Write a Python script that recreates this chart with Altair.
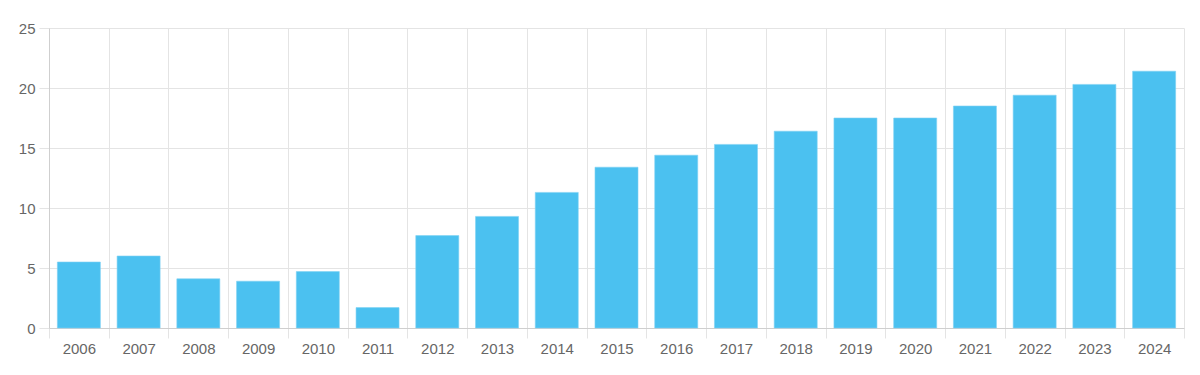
import altair as alt
import pandas as pd

years = [str(y) for y in range(2006, 2025)]
values = [5.5, 6.0, 4.1, 3.9, 4.7, 1.7, 7.7, 9.3, 11.3, 13.4, 14.4, 15.3, 16.4, 17.5, 17.5, 18.5, 19.4, 20.3, 21.4]

df = pd.DataFrame({"year": years, "value": values})

GRID = "#e4e4e4"
DOMAIN = "#cfcfcf"
FONT = "Liberation Sans"

chart = alt.Chart(df).mark_bar(
    color="#4BC1F0", width=alt.RelativeBandSize(0.72), stroke="#7fd2f4", strokeWidth=0.6
).encode(
    x=alt.X("year:N", sort=years, title=None,
            scale=alt.Scale(paddingInner=0, paddingOuter=0),
            axis=alt.Axis(labelAngle=0, grid=True, gridColor=GRID, tickBand="extent",
                          tickColor=GRID, tickSize=10, domainColor=DOMAIN,
                          labelFont=FONT, labelFontSize=15, labelColor="#666666",
                          labelPadding=3)),
    y=alt.Y("value:Q", title=None,
            scale=alt.Scale(domain=[0, 25], nice=False),
            axis=alt.Axis(values=[0, 5, 10, 15, 20, 25], grid=True, gridColor=GRID,
                          tickColor=GRID, tickSize=10, domainColor=DOMAIN,
                          labelFont=FONT, labelFontSize=15, labelColor="#666666",
                          labelPadding=4)),
).properties(
    width=1135, height=300,
    autosize=alt.AutoSizeParams(type="none"),
    padding={"left": 41, "top": 20, "right": 8, "bottom": 40},
).configure_view(stroke=None)

chart.save("out.html", embed_options={"renderer": "svg", "actions": False})
